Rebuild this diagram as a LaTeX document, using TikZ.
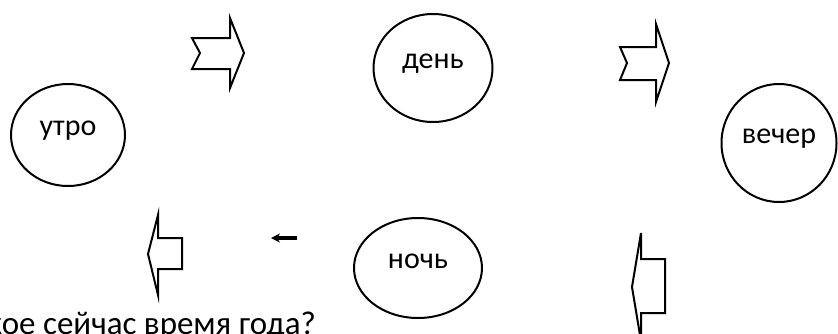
\documentclass[tikz,border=0pt]{standalone}
\usepackage{fontspec}
\setmainfont{Carlito}
\usetikzlibrary{shapes.geometric,arrows.meta}
\tikzset{
  phase/.style={draw,ellipse,line width=2pt,inner sep=0pt,
    text height=7pt,text depth=7pt,font=\fontsize{30}{36}\selectfont},
  blockarrow/.style={draw,line width=2pt,line join=miter}
}
\begin{document}
\begin{tikzpicture}[x=1pt,y=-1pt]
  \useasboundingbox (0,0) rectangle (838,333);
  \node[phase,minimum width=114pt,minimum height=102pt] (morning) at (68,135) {утро};
  \node[phase,minimum width=119pt,minimum height=108pt] (day) at (433,68) {день};
  \node[phase,minimum width=115pt,minimum height=118pt] (evening) at (779,143) {вечер};
  \node[phase,minimum width=128pt,minimum height=100pt] (night) at (418,268) {ночь};
  % notched arrows at the top
  \draw[blockarrow] (192,38) -- (230,38) -- (230,18) -- (244,53)
    -- (230,88) -- (230,69) -- (192,69) -- (200,53) -- cycle;
  \draw[blockarrow] (620,47) -- (656,47) -- (656,24) -- (669,63)
    -- (656,102) -- (656,80) -- (620,80) -- (627,63) -- cycle;
  % left arrows at the bottom
  \draw[blockarrow] (148,254) -- (158,215) -- (158,238) -- (182,238)
    -- (182,269) -- (158,269) -- (158,295) -- cycle;
  \draw[blockarrow] (632,287) -- (641,233) -- (641,259) -- (665,259)
    -- (665,313) -- (641,313) -- (641,341) -- cycle;
  \coordinate (tailend) at (297,238);
  \coordinate (headend) at (271,238);
  \draw[line width=4pt,-{Stealth[length=9pt,width=9pt]}] (tailend) -- (headend);
  \node[font=\fontsize{33}{40}\selectfont,anchor=base east,inner sep=0pt]
    (question) at (316,334) {кое сейчас время года?};
\end{tikzpicture}
\end{document}
